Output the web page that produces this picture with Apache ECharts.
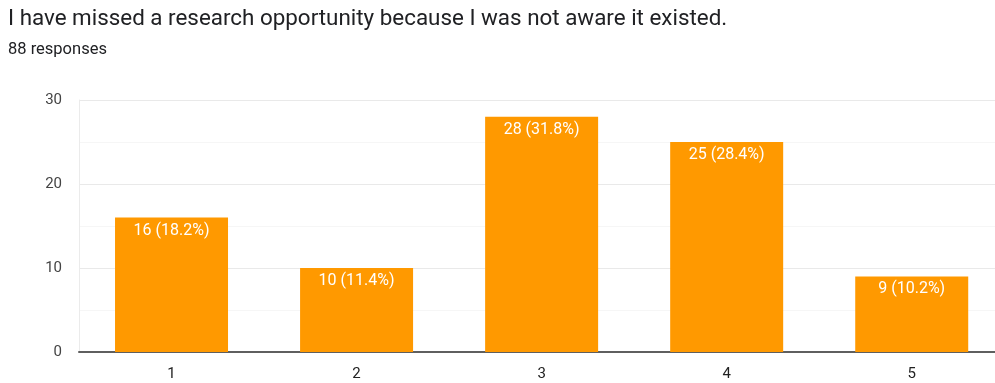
<!DOCTYPE html>
<html>
<head>
<meta charset="utf-8">
<script src="https://cdn.jsdelivr.net/npm/echarts@6/dist/echarts.min.js"></script>
<style>
  html, body { margin: 0; padding: 0; background: #fff; }
  #chart { width: 995px; height: 383px; }
</style>
</head>
<body>
<div id="chart"></div>
<script>
// Survey question and answer counts (linear scale 1–5)
const questionTitle = 'I have missed a research opportunity because I was not aware it existed.';
const responseCountText = '88 responses';
const categories = ['1', '2', '3', '4', '5'];
const counts = [16, 10, 28, 25, 9];
const percents = ['18.2%', '11.4%', '31.8%', '28.4%', '10.2%'];
const yTicks = [0, 10, 20, 30];

// the plot is clipped on the right, so the scale runs just short of 5.5
const xMin = 0.5;
const xMax = 5.45;

const points = categories.map((c, i) => [Number(c), counts[i]]);

const chart = echarts.init(document.getElementById('chart'), null, { renderer: 'canvas' });

chart.setOption({
  animation: false,
  textStyle: { fontFamily: 'Roboto, Arial, sans-serif' },
  title: {
    text: questionTitle,
    subtext: responseCountText,
    left: 3,
    top: 3,
    itemGap: 11,
    textStyle: { fontSize: 22.4, fontWeight: 'normal', color: '#202124', fontFamily: 'Roboto, Arial, sans-serif' },
    subtextStyle: { fontSize: 16.5, color: '#202124', fontFamily: 'Roboto, Arial, sans-serif' }
  },
  grid: { left: 79, right: 0, top: 100, bottom: 31, containLabel: false },
  xAxis: {
    type: 'value',
    min: xMin,
    max: xMax,
    axisLine: { show: true, onZero: false, lineStyle: { color: '#5f5f5f', width: 2 } },
    axisTick: { show: false },
    axisLabel: {
      fontSize: 15, color: '#222', margin: 15,
      customValues: categories.map(Number),
      formatter: v => categories[Math.round(v) - 1]
    },
    splitLine: { show: false }
  },
  yAxis: {
    type: 'value',
    min: yTicks[0],
    max: yTicks[yTicks.length - 1],
    interval: yTicks[1] - yTicks[0],
    axisLine: { show: true, lineStyle: { color: '#ebebeb', width: 1 } },
    axisTick: { show: false },
    axisLabel: { fontSize: 15, color: '#444', margin: 17 },
    splitLine: { lineStyle: { color: '#e9e9e9', width: 1 } },
    minorTick: { show: false, splitNumber: 2 },
    minorSplitLine: { show: true, lineStyle: { color: '#f6f6f6', width: 1 } }
  },
  series: [{
    type: 'bar',
    data: points,
    barWidth: 113,
    itemStyle: { color: '#ff9900' },
    label: {
      show: true,
      position: 'insideTop',
      distance: 5,
      color: '#fff',
      fontSize: 16,
      formatter: p => p.value[1] + ' (' + percents[p.dataIndex] + ')'
    }
  }]
});
</script>
</body>
</html>
